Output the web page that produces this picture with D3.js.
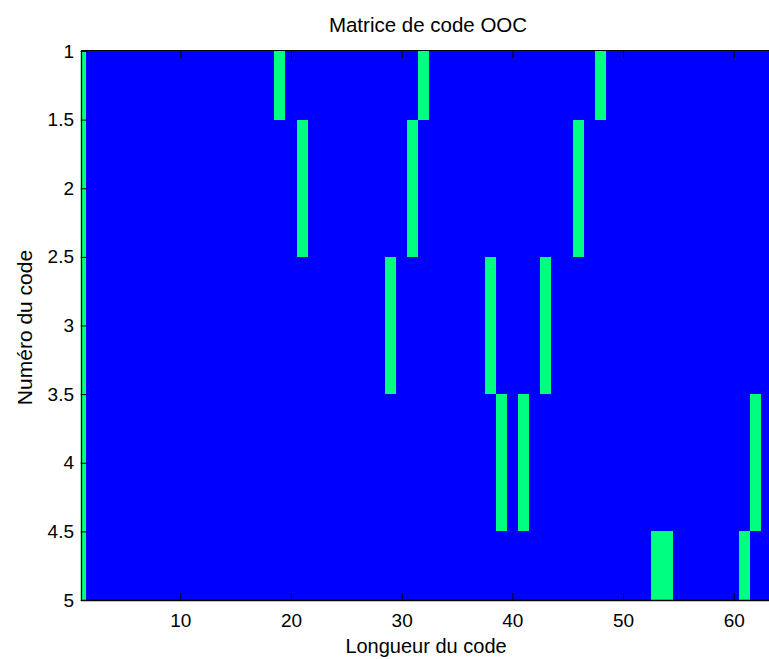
<!DOCTYPE html>
<html>
<head>
<meta charset="utf-8">
<script src="https://cdn.jsdelivr.net/npm/d3@7"></script>
<style>
  html, body { margin: 0; padding: 0; background: #fff; }
  svg { display: block; }
  text { font-family: "Liberation Sans", Arial, sans-serif; fill: #000; }
</style>
</head>
<body>
<svg id="chart" width="769" height="659"></svg>
<script>
// ---- data ----
const title = "Matrice de code OOC";
const xLabel = "Longueur du code";
const yLabel = "Numéro du code";
const codeLength = 63;               // number of chips per code
const codeNumbers = [1, 2, 3, 4, 5]; // rows
// positions of the "1" chips in each code (row)
const code1 = [1, 19, 32, 48];
const code2 = [1, 21, 31, 46];
const code3 = [1, 29, 38, 43];
const code4 = [1, 39, 41, 62];
const code5 = [1, 53, 54, 61];
const codes = [code1, code2, code3, code4, code5];
const xTicks = [10, 20, 30, 40, 50, 60];
const yTicks = [1, 1.5, 2, 2.5, 3, 3.5, 4, 4.5, 5];
const xDomain = [1, 64];
const yDomain = [1, 5];
const colorZero = "#0000FF";
const colorOne = "#00FF80";

// build matrix cells
const cells = [];
codeNumbers.forEach((r, i) => {
  for (let c = 1; c <= codeLength; c++) {
    cells.push({ row: r, col: c, v: codes[i].includes(c) ? 1 : 0 });
  }
});

// ---- layout ----
const svg = d3.select("#chart");
const plotLeft = 80.7, plotRight = 778, plotTop = 51, plotBottom = 600;

const x = d3.scaleLinear().domain(xDomain).range([plotLeft, plotRight]);
const y = d3.scaleLinear().domain(yDomain).range([plotTop, plotBottom]);
const color = d3.scaleOrdinal().domain([0, 1]).range([colorZero, colorOne]);

svg.append("clipPath").attr("id", "clip")
  .append("rect")
  .attr("x", x(xDomain[0])).attr("y", y(yDomain[0]))
  .attr("width", x(xDomain[1]) - x(xDomain[0]))
  .attr("height", y(yDomain[1]) - y(yDomain[0]));

const cellG = svg.append("g").attr("clip-path", "url(#clip)");
cellG.selectAll("rect")
  .data(cells)
  .join("rect")
  .attr("x", d => Math.round(x(d.col - 0.5)))
  .attr("y", d => Math.round(y(d.row - 0.5)))
  .attr("width", d => Math.round(x(d.col + 0.5)) - Math.round(x(d.col - 0.5)))
  .attr("height", d => Math.round(y(d.row + 0.5)) - Math.round(y(d.row - 0.5)))
  .attr("fill", d => color(d.v))
  .attr("shape-rendering", "crispEdges");

// ---- axes ----
const tickLen = 7;
const fontTick = 19;

const xAxisB = d3.axisBottom(x).tickValues(xTicks).tickSizeInner(-tickLen).tickSizeOuter(0).tickPadding(13.7).tickFormat(d3.format("d"));
const gxb = svg.append("g").attr("transform", `translate(0,${y(5)})`).call(xAxisB);
const xAxisT = d3.axisTop(x).tickValues(xTicks).tickSizeInner(-tickLen).tickSizeOuter(0).tickFormat("");
const gxt = svg.append("g").attr("transform", `translate(0,${y(1)})`).call(xAxisT);
const yAxisL = d3.axisLeft(y).tickValues(yTicks).tickSizeInner(-tickLen).tickSizeOuter(0).tickPadding(6.7).tickFormat(d3.format("~g"));
const gyl = svg.append("g").attr("transform", `translate(${x(1)},0)`).call(yAxisL);
const yAxisR = d3.axisRight(y).tickValues(yTicks).tickSizeInner(-tickLen).tickSizeOuter(0).tickFormat("");
const gyr = svg.append("g").attr("transform", `translate(${x(64)},0)`).call(yAxisR);

[gxb, gxt, gyl, gyr].forEach(g => {
  g.select(".domain").remove();
  g.selectAll(".tick line").attr("stroke", "#000").attr("stroke-width", 1);
  g.selectAll("text").attr("font-size", fontTick).attr("font-family", "Liberation Sans, Arial, sans-serif").attr("fill", "#000");
});

// box
svg.append("line").attr("x1", 81.5).attr("x2", 81.5).attr("y1", 50.5).attr("y2", 600.5).attr("stroke", "#000").attr("stroke-width", 1.2);
svg.append("line").attr("x1", 81).attr("x2", 780).attr("y1", 50.5).attr("y2", 50.5).attr("stroke", "#000").attr("stroke-width", 1.2);
svg.append("line").attr("x1", 81).attr("x2", 780).attr("y1", 600.5).attr("y2", 600.5).attr("stroke", "#000").attr("stroke-width", 1.4);

// ---- labels ----
svg.append("text").attr("x", 428).attr("y", 32).attr("text-anchor", "middle").attr("font-size", 20.5).text(title);
svg.append("text").attr("x", 426).attr("y", 653).attr("text-anchor", "middle").attr("font-size", 20).text(xLabel);
svg.append("text").attr("transform", "translate(31.5,327.5) rotate(-90)").attr("text-anchor", "middle").attr("font-size", 21).text(yLabel);
</script>
</body>
</html>
